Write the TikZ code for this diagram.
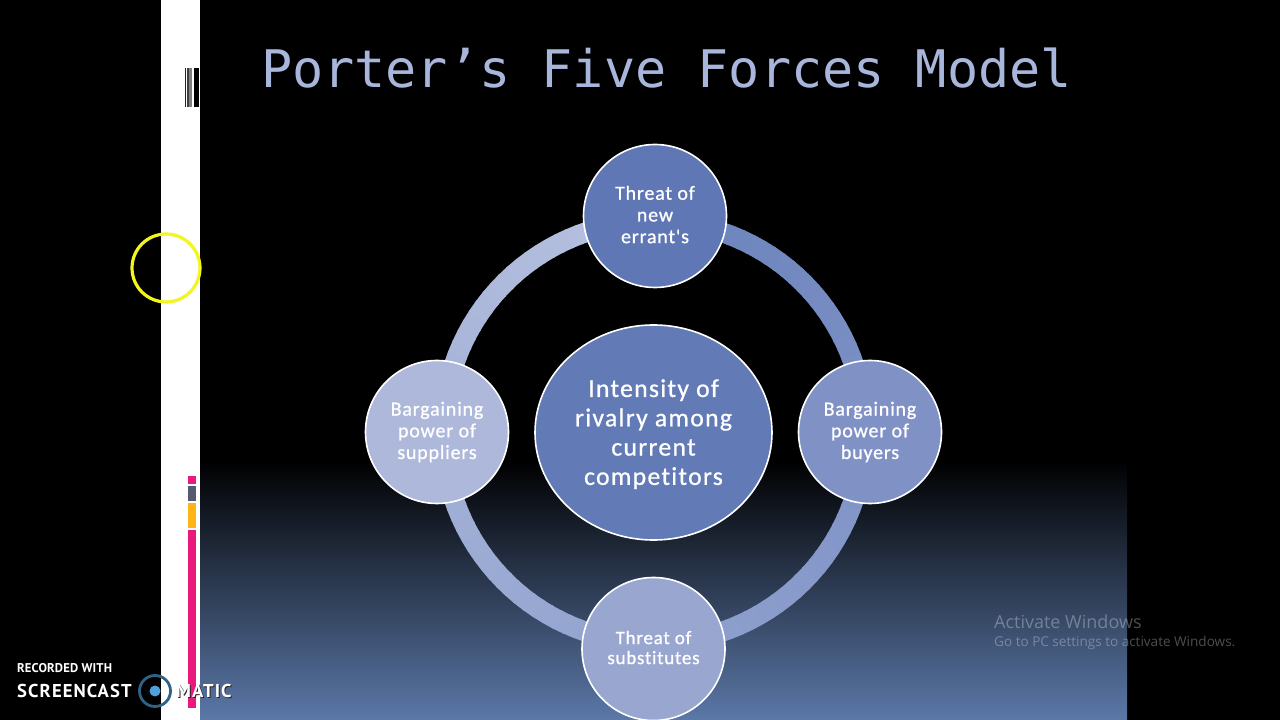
\documentclass[tikz,border=0pt]{standalone}
\usepackage{fontspec}
\usetikzlibrary{shapes.geometric}
\newfontfamily\titlefont{DejaVu Sans Mono}
\newfontfamily\labfont[LetterSpace=4,FakeBold=0.8,Ligatures=NoCommon]{Carlito}
\newfontfamily\corefont[LetterSpace=5,FakeBold=0.8,Ligatures=NoCommon]{Carlito}
\newfontfamily\wmfont{Open Sans}
\newfontfamily\logofont[LetterSpace=1]{PT Sans}
\newfontfamily\logoSpaced[LetterSpace=6]{PT Sans}
\definecolor{titlecol}{HTML}{A9B6DC}
\definecolor{ringdark}{HTML}{6A82BC}
\definecolor{ringlight}{HTML}{B8C2E0}
\definecolor{slideblue}{HTML}{5B78A8}
\definecolor{fillcore}{HTML}{627AB6}
\definecolor{filltop}{HTML}{5F78B5}
\definecolor{fillright}{HTML}{8091C6}
\definecolor{fillbottom}{HTML}{99A6D0}
\definecolor{fillleft}{HTML}{AEB8DB}
\definecolor{pinkbar}{HTML}{E91A7C}
\definecolor{greybar}{HTML}{555A70}
\definecolor{orangebar}{HTML}{FDB515}
\definecolor{cursorcol}{HTML}{F2F51E}
\definecolor{logoring}{HTML}{2F6287}
\definecolor{logodot}{HTML}{4FA0DC}
\tikzset{
  force/.style={circle,draw=white,line width=1.6pt,minimum size=143pt,inner sep=0pt,align=center,text=white,
    font=\labfont\fontsize{20}{21.7}\selectfont},
  wmtext/.style={anchor=west,text=white,text opacity=0.3,inner sep=0pt},
  logotext/.style={anchor=west,text=white,inner sep=0pt}
}
\begin{document}
\begin{tikzpicture}[x=1pt,y=1pt]
\useasboundingbox (0,0) rectangle (1280,720);
\fill[black] (0,0) rectangle (1280,720);
\fill[white] (161,0) rectangle (200,720);
\shade[top color=black,bottom color=slideblue] (200,0) rectangle (1127,260);
% ring
\coordinate (hub) at (654,288);
\foreach \t in {0,3,...,357}{
  \pgfmathsetmacro{\pc}{\t/3.6}
  \pgfmathsetmacro{\st}{90-\t}
  \pgfmathsetmacro{\en}{90-\t-3.6}
  \colorlet{segcol}{ringlight!\pc!ringdark}
  \draw[segcol,line width=20pt] ([shift={(\st:211pt)}]hub) arc[start angle=\st,end angle=\en,radius=211pt];
}
% title
\node[text=titlecol,inner sep=0pt,font=\titlefont\fontsize{51.8}{60}\selectfont] (title) at (666.5,652) {Porter’s Five Forces Model};
% circles
\node[ellipse,draw=white,line width=1.6pt,fill=fillcore,minimum width=237pt,minimum height=215pt,inner sep=0pt,align=center,text=white,
  font=\corefont\fontsize{25.7}{29.3}\selectfont] (core) at (653.5,287.5) {\rule{0pt}{21pt}Intensity of\\rivalry among\\current\\competitors};
\node[force,fill=filltop] (top) at (655,504) {Threat of\\new\\errant's\rule[-3pt]{0pt}{1pt}};
\node[force,fill=fillright] (right) at (870,288) {Bargaining\\power of\\buyers};
\node[force,fill=fillleft] (left) at (437,288) {Bargaining\\power of\\suppliers};
\node[force,fill=fillbottom,font=\labfont\fontsize{19}{20}\selectfont] (bottom) at (653.5,71) {Threat of\\substitutes\rule[-3pt]{0pt}{1pt}};
% recorder bars
\fill[pinkbar] (188.3,243.5) rectangle (196,235.5);
\fill[greybar] (188.3,234) rectangle (196,218.5);
\fill[orangebar] (188.3,217) rectangle (196,192);
\fill[pinkbar] (188.3,190) rectangle (196,12);
% barcode
\fill[black!85] (184.7,652) rectangle (186,613);
\fill[black!75] (187,652) rectangle (189.3,613);
\fill[black!50] (189.3,652) rectangle (192,613);
\fill[black] (193.7,652) rectangle (198.8,613);
% cursor
\node[circle,draw=cursorcol,line width=3.2pt,minimum size=68pt,inner sep=0pt] (cursor) at (166,452) {};
% watermark
\node[wmtext,font=\wmfont\fontsize{18}{20}\selectfont] (wma) at (994,98.5) {Activate Windows};
\node[wmtext,font=\wmfont\fontsize{13.55}{16}\selectfont] (wmb) at (994,77) {Go to PC settings to activate Windows.};
% logo
\node[logotext,font=\logofont\bfseries\fontsize{12.7}{14}\selectfont] (rec) at (17,52) {RECORDED WITH};
\node[logotext,font=\logoSpaced\bfseries\fontsize{18.6}{20}\selectfont] (sc) at (17,29) {SCREENCAST};
\node[circle,draw=logoring,line width=2.8pt,minimum size=31pt,inner sep=0pt] (ringlogo) at (155,29) {};
\node[circle,fill=logodot,minimum size=11pt,inner sep=0pt] (dotlogo) at (155,29) {};
\node[logotext,text=black!85,font=\logoSpaced\bfseries\fontsize{18.6}{20}\selectfont] (maticsh) at (177,28) {MATIC};
\node[logotext,font=\logoSpaced\bfseries\fontsize{18.6}{20}\selectfont] (matic) at (176,29) {MATIC};
\end{tikzpicture}
\end{document}
